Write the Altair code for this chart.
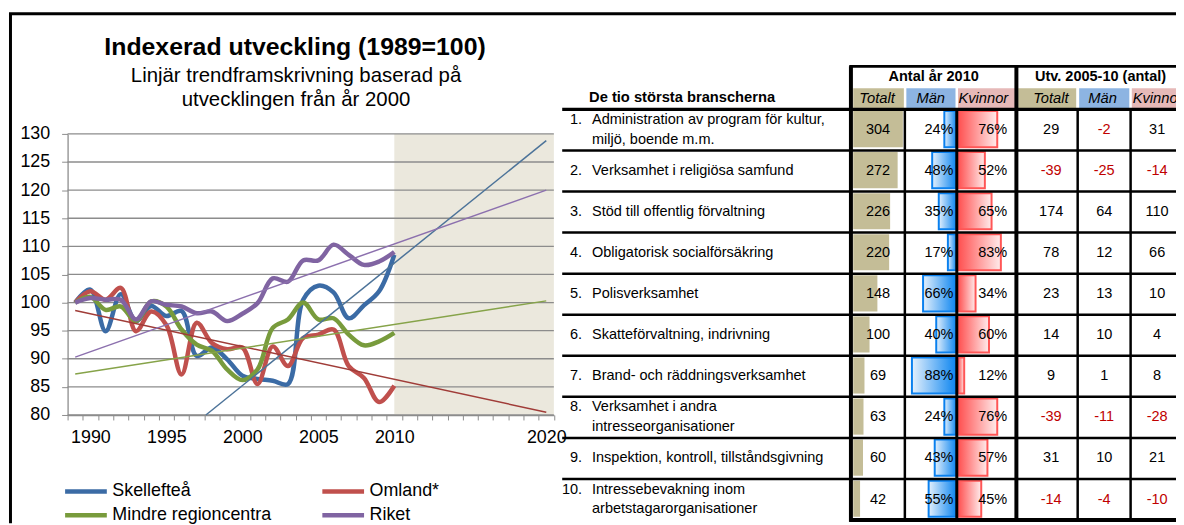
import altair as alt
import pandas as pd

# ------------------------------------------------------------------ data
years = list(range(1989, 2011))
skelleftea = [100, 102.3, 94.9, 101.5, 96.7, 99.4, 97.6, 98.5, 90.5, 92.0, 89.9,
              87.0, 86.4, 86.1, 85.5, 100.5, 103.0, 101.8, 97.2, 99.5, 102.0, 108.5]
omland = [100, 102.0, 100.5, 102.6, 94.9, 98.4, 96.0, 87.2, 96.4, 92.8, 91.7,
          92.0, 85.5, 92.2, 88.7, 93.7, 94.3, 95.2, 88.7, 86.6, 82.3, 85.2]
mindre = [100, 101.0, 98.7, 99.3, 96.7, 100.2, 99.3, 95.2, 92.5, 91.4, 88.1,
          86.2, 88.1, 95.5, 97.0, 100.0, 97.0, 97.2, 94.3, 92.4, 93.1, 94.6]
riket = [100, 100.8, 100.5, 100.5, 97.0, 100.2, 99.6, 99.3, 98.1, 98.4, 96.7,
         98.0, 99.9, 104.3, 103.7, 107.5, 107.5, 110.3, 108.5, 106.7, 107.3, 109.0]
series_names = ["Skellefteå", "Omland*", "Mindre regioncentra", "Riket"]
series_values = [skelleftea, omland, mindre, riket]
legend_order = ["Skellefteå", "Mindre regioncentra", "Omland*", "Riket"]  # column-major fill

# linear trends (start point where visible, end at 2020)
trend_start_year = [1997.6, 1989, 1989, 1989]
trend_start_value = [80.0, 98.6, 87.3, 90.3]
trend_end_year = [2020, 2020, 2020, 2020]
trend_end_value = [128.8, 80.5, 100.3, 120.0]

forecast_start = 2010
y_ticks = [80, 85, 90, 95, 100, 105, 110, 115, 120, 125, 130]
x_label_years = [1990, 1995, 2000, 2005, 2010, 2020]
first_year, last_year = 1989, 2020

title_text = "Indexerad utveckling (1989=100)"
subtitle_lines = ["Linjär trendframskrivning baserad på", "utvecklingen från år 2000"]

branch_numbers = ["1.", "2.", "3.", "4.", "5.", "6.", "7.", "8.", "9.", "10."]
branch_names = [
    "Administration av program för kultur,\nmiljö, boende m.m.",
    "Verksamhet i religiösa samfund",
    "Stöd till offentlig förvaltning",
    "Obligatorisk socialförsäkring",
    "Polisverksamhet",
    "Skatteförvaltning, indrivning",
    "Brand- och räddningsverksamhet",
    "Verksamhet i andra\nintresseorganisationer",
    "Inspektion, kontroll, tillståndsgivning",
    "Intressebevakning inom\narbetstagarorganisationer",
]
totalt_2010 = [304, 272, 226, 220, 148, 100, 69, 63, 60, 42]
man_pct = [24, 48, 35, 17, 66, 40, 88, 24, 43, 55]
kvinnor_pct = [76, 52, 65, 83, 34, 60, 12, 76, 57, 45]
utv_totalt = [29, -39, 174, 78, 23, 14, 9, -39, 31, -14]
utv_man = [-2, -25, 64, 12, 13, 10, 1, -11, 10, -4]
utv_kvinnor = [31, -14, 110, 66, 10, 4, 8, -28, 21, -10]

table_header = "De tio största branscherna"
group_headers = ["Antal år 2010", "Utv. 2005-10 (antal)"]
sub_headers = ["Totalt", "Män", "Kvinnor", "Totalt", "Män", "Kvinnor"]

# ------------------------------------------------------------------ style / layout
FONT = "Liberation Sans"
W, H = 1176, 517
X_RANGE = [60, 549.6]
Y_RANGE = [408, 125]
ROW_RANGE = [100.3, 513.8]
ROW_PX = (ROW_RANGE[1] - ROW_RANGE[0]) / 10
LINE_H = 20
GRID = "#8C8C8C"
SHADE = "#EBE8DD"
series_colors = ["#3B6BA5", "#C0504D", "#789B3C", "#8064A2"]
trend_colors = ["#4C7399", "#A03C38", "#86A349", "#8C70AE"]
TAN, BLUE_H, PINK_H = "#C4BD97", "#8DB4E2", "#E6B9B8"
NEG = "#C00000"

col_bounds = [848.7, 903, 955.3, 1015.3, 1077, 1130.3, 1186]
sub_cell_l = [851, 904.5, 956.5, 1017, 1078.5, 1131.5]
sub_cell_r = [902, 954, 1014, 1075.5, 1129, 1186]
sub_text_x = [875, 929, 982, 1050, 1102, 1157.5]


def x_year(field, axis=None):
    return alt.X(field, type="quantitative",
                 scale=alt.Scale(domain=[first_year - 0.5, last_year + 0.5], range=X_RANGE,
                                 nice=False, zero=False), axis=axis)


def y_idx(field, axis=None):
    return alt.Y(field, type="quantitative",
                 scale=alt.Scale(domain=[y_ticks[0], y_ticks[-1]], range=Y_RANGE, nice=False, zero=False),
                 axis=axis)


def y_row(field):
    return alt.Y(field, type="quantitative",
                 scale=alt.Scale(domain=[0.5, 10.5], range=ROW_RANGE, nice=False, zero=False), axis=None)


def px(field):
    return alt.X(field, type="quantitative", scale=None, axis=None)


def py(field):
    return alt.Y(field, type="quantitative", scale=None, axis=None)


one = pd.DataFrame({"k": [0]})

# ------------------------------------------------------------------ left chart
frame_left = alt.Chart(one).mark_rule(color="black", strokeWidth=3).encode(
    x=alt.value(2.5), y=alt.value(4), y2=alt.value(H))
frame_top = alt.Chart(one).mark_rule(color="black", strokeWidth=3).encode(
    x=alt.value(1), x2=alt.value(W), y=alt.value(4))

shade_df = pd.DataFrame({"s": [forecast_start], "e": [last_year + 0.5],
                         "lo": [y_ticks[0]], "hi": [y_ticks[-1]]})
shade = alt.Chart(shade_df).mark_rect(color=SHADE).encode(
    x=x_year("s"), x2="e", y=y_idx("lo"), y2="hi")

boundaries = [first_year - 0.5 + i for i in range(last_year - first_year + 2)]
label_list = ",".join(str(v) for v in x_label_years)
x_axis = alt.Axis(orient="bottom", offset=-(H - Y_RANGE[0]), values=boundaries,
                  labelExpr=f"indexof([{label_list}], datum.value + 0.5) >= 0 ? format(datum.value + 0.5, 'd') : ''",
                  labelOffset=7.65, labelOverlap=False, labelFlush=False, labelBound=False,
                  tickSize=5, tickColor=GRID, domainColor=GRID, domainWidth=1.3,
                  labelFontSize=18, labelFont=FONT, labelColor="black", labelPadding=9,
                  grid=False, title=None)
y_axis = alt.Axis(orient="left", offset=-X_RANGE[0], values=y_ticks, tickSize=6, tickColor=GRID,
                  domainColor=GRID, domainWidth=1.3, labelFontSize=18, labelFont=FONT,
                  labelColor="black", labelPadding=12, grid=False, title=None, labelOverlap=False)

grid_df = pd.DataFrame({"v": y_ticks, "a": first_year - 0.5, "b": last_year + 0.5})
grid = alt.Chart(grid_df).mark_rule(color=GRID, strokeWidth=1.3).encode(
    x=x_year("a", x_axis), x2="b", y=y_idx("v", y_axis))

lines_df = pd.concat([pd.DataFrame({"year": years, "value": vals, "series": name})
                      for name, vals in zip(series_names, series_values)], ignore_index=True)
lines = alt.Chart(lines_df).mark_line(interpolate="catmull-rom", strokeWidth=4.5).encode(
    x=x_year("year"), y=y_idx("value"),
    color=alt.Color("series:N", scale=alt.Scale(domain=series_names, range=series_colors),
                    legend=alt.Legend(title=None, orient="none", legendX=55, legendY=475, columns=2,
                                      values=legend_order,
                                      symbolType="stroke", symbolSize=1764, symbolStrokeWidth=4.5,
                                      labelFontSize=18, labelFont=FONT, labelColor="black",
                                      labelOffset=3, labelLimit=400, columnPadding=48, rowPadding=4,
                                      clipHeight=20, padding=0)))

trend_df = pd.concat([pd.DataFrame({"year": [sy, ey], "value": [sv, ev], "series": name})
                      for name, sy, sv, ey, ev in zip(series_names, trend_start_year, trend_start_value,
                                                      trend_end_year, trend_end_value)], ignore_index=True)
trends = alt.Chart(trend_df).mark_line(strokeWidth=1.5).encode(
    x=x_year("year"), y=y_idx("value"),
    color=alt.Color("series:N", scale=alt.Scale(domain=series_names, range=trend_colors), legend=None))

title = alt.Chart(pd.DataFrame({"t": [title_text]})).mark_text(
    font=FONT, fontSize=25, fontWeight="bold", align="center", baseline="alphabetic").encode(
    x=alt.value(289), y=alt.value(46), text="t:N")
sub1 = alt.Chart(pd.DataFrame({"t": [subtitle_lines[0]]})).mark_text(
    font=FONT, fontSize=20.5, align="center", baseline="alphabetic").encode(
    x=alt.value(290), y=alt.value(72.5), text="t:N")
sub2 = alt.Chart(pd.DataFrame({"t": [subtitle_lines[1]]})).mark_text(
    font=FONT, fontSize=20.5, align="center", baseline="alphabetic").encode(
    x=alt.value(290), y=alt.value(97), text="t:N")

# ------------------------------------------------------------------ table
tdf = pd.DataFrame({"row": list(range(1, 11)), "num": branch_numbers, "name": branch_names,
                    "totalt": totalt_2010, "man": man_pct, "kvinnor": kvinnor_pct,
                    "ut": utv_totalt, "um": utv_man, "uk": utv_kvinnor})
tdf["man_lbl"] = [f"{v}%" for v in man_pct]
tdf["kv_lbl"] = [f"{v}%" for v in kvinnor_pct]
for f in ["ut", "um", "uk"]:
    tdf[f + "_lbl"] = [str(v) for v in tdf[f]]

shift = LINE_H / 2 / ROW_PX
base = alt.Chart(tdf).transform_calculate(
    top="datum.row - 0.46", bot="datum.row + 0.42", zero="0",
    ylab=f"indexof(datum.name, '\\n') >= 0 ? datum.row - {shift} : datum.row")

tot_bars = base.mark_rect(color=TAN).encode(
    x=alt.X("zero:Q", scale=alt.Scale(domain=[0, max(totalt_2010)], range=[851, 901], nice=False, zero=False),
            axis=None),
    x2="totalt:Q", y=y_row("top:Q"), y2="bot:Q")

man_grad = alt.LinearGradient(gradient="linear", x1=0, x2=1, y1=0, y2=0,
                              stops=[alt.GradientStop(color="#E4F0FC", offset=0),
                                     alt.GradientStop(color="#0A84F0", offset=1)])
kv_grad = alt.LinearGradient(gradient="linear", x1=0, x2=1, y1=0, y2=0,
                             stops=[alt.GradientStop(color="#FF4F4F", offset=0),
                                    alt.GradientStop(color="#FFECEC", offset=1)])
man_bars = base.mark_rect(fill=man_grad, stroke="#0A80EE", strokeWidth=2).encode(
    x=alt.X("zero:Q", scale=alt.Scale(domain=[0, 100], range=[955, 904], nice=False, zero=False), axis=None),
    x2="man:Q", y=y_row("top:Q"), y2="bot:Q")
kv_bars = base.mark_rect(fill=kv_grad, stroke="#FF5656", strokeWidth=2).encode(
    x=alt.X("zero:Q", scale=alt.Scale(domain=[0, 100], range=[956.5, 1008.5], nice=False, zero=False),
            axis=None),
    x2="kvinnor:Q", y=y_row("top:Q"), y2="bot:Q")

FS = 14.6
num_txt = base.mark_text(font=FONT, fontSize=FS, align="right", baseline="middle").encode(
    x=alt.value(578), y=y_row("ylab:Q"), text="num:N")
name_txt = base.mark_text(font=FONT, fontSize=FS, align="left", baseline="middle", lineBreak="\n",
                          lineHeight=LINE_H).encode(x=alt.value(588), y=y_row("ylab:Q"), text="name:N")
tot_txt = base.mark_text(font=FONT, fontSize=FS, align="center", baseline="middle").encode(
    x=alt.value(876), y=y_row("row:Q"), text="totalt:Q")
man_txt = base.mark_text(font=FONT, fontSize=FS, align="right", baseline="middle").encode(
    x=alt.value(952), y=y_row("row:Q"), text="man_lbl:N")
kv_txt = base.mark_text(font=FONT, fontSize=FS, align="right", baseline="middle").encode(
    x=alt.value(1006), y=y_row("row:Q"), text="kv_lbl:N")


def utv_text(field, cx):
    return base.mark_text(font=FONT, fontSize=FS, align="center", baseline="middle").encode(
        x=alt.value(cx), y=y_row("row:Q"), text=f"{field}_lbl:N",
        color=alt.condition(f"datum.{field} < 0", alt.value(NEG), alt.value("black")))


ut_txt = utv_text("ut", 1050.3)
um_txt = utv_text("um", 1103.7)
uk_txt = utv_text("uk", 1157)

# header cells
sub_df = pd.DataFrame({"l": sub_cell_l, "r": sub_cell_r, "t": sub_headers, "cx": sub_text_x,
                       "c": [TAN, BLUE_H, PINK_H, TAN, BLUE_H, PINK_H]})
sub_cells = alt.Chart(sub_df).mark_rect().encode(
    x=px("l"), x2="r", y=alt.value(79), y2=alt.value(99), color=alt.Color("c:N", scale=None))
sub_txt = alt.Chart(sub_df).mark_text(font=FONT, fontSize=14.8, fontStyle="italic", baseline="middle",
                                      align="center").encode(x=px("cx"), y=alt.value(89.5), text="t:N")
grp_df = pd.DataFrame({"t": group_headers, "cx": [932, 1100]})
grp_txt = alt.Chart(grp_df).mark_text(font=FONT, fontSize=14.6, fontWeight="bold", baseline="middle",
                                      align="center").encode(x=px("cx"), y=alt.value(68), text="t:N")
hdr_txt = alt.Chart(pd.DataFrame({"t": [table_header]})).mark_text(
    font=FONT, fontSize=14.8, fontWeight="bold", baseline="middle", align="left").encode(
    x=alt.value(585), y=alt.value(88.5), text="t:N")

# table lines
vl_df = pd.DataFrame({"x": col_bounds[:6], "y0": [57, 100.3, 100.3, 57, 100.3, 100.3],
                      "w": [4, 2.5, 3, 4, 2.5, 2.5]})
v_lines = alt.Chart(vl_df).mark_rule(color="black").encode(
    x=px("x"), y=py("y0"), y2=alt.value(515.5), strokeWidth=alt.StrokeWidth("w:Q", scale=None))
h_top = alt.Chart(one).mark_rule(color="black", strokeWidth=3).encode(
    x=alt.value(847), x2=alt.value(W), y=alt.value(57))
sep_df = pd.DataFrame({"b": [0.5 + i for i in range(10)], "w": [3.5] + [2.5] * 9})
h_seps = alt.Chart(sep_df).mark_rule(color="black").encode(
    x=alt.value(558), x2=alt.value(W), y=y_row("b:Q"), strokeWidth=alt.StrokeWidth("w:Q", scale=None))
h_bot = alt.Chart(pd.DataFrame({"b": [10.5]})).mark_rule(color="black", strokeWidth=4).encode(
    x=alt.value(847), x2=alt.value(W), y=y_row("b:Q"))

chart = alt.layer(
    shade, grid, lines, trends, title, sub1, sub2,
    tot_bars, man_bars, kv_bars, sub_cells,
    num_txt, name_txt, tot_txt, man_txt, kv_txt, ut_txt, um_txt, uk_txt,
    sub_txt, grp_txt, hdr_txt,
    v_lines, h_top, h_seps, h_bot, frame_left, frame_top,
).resolve_scale(x="independent", y="independent", color="independent", strokeWidth="independent").properties(
    width=W, height=H, autosize=alt.AutoSizeParams(type="none"), padding=0
).configure_view(stroke=None)

chart.save("out.html", embed_options={"renderer": "svg", "actions": False})
